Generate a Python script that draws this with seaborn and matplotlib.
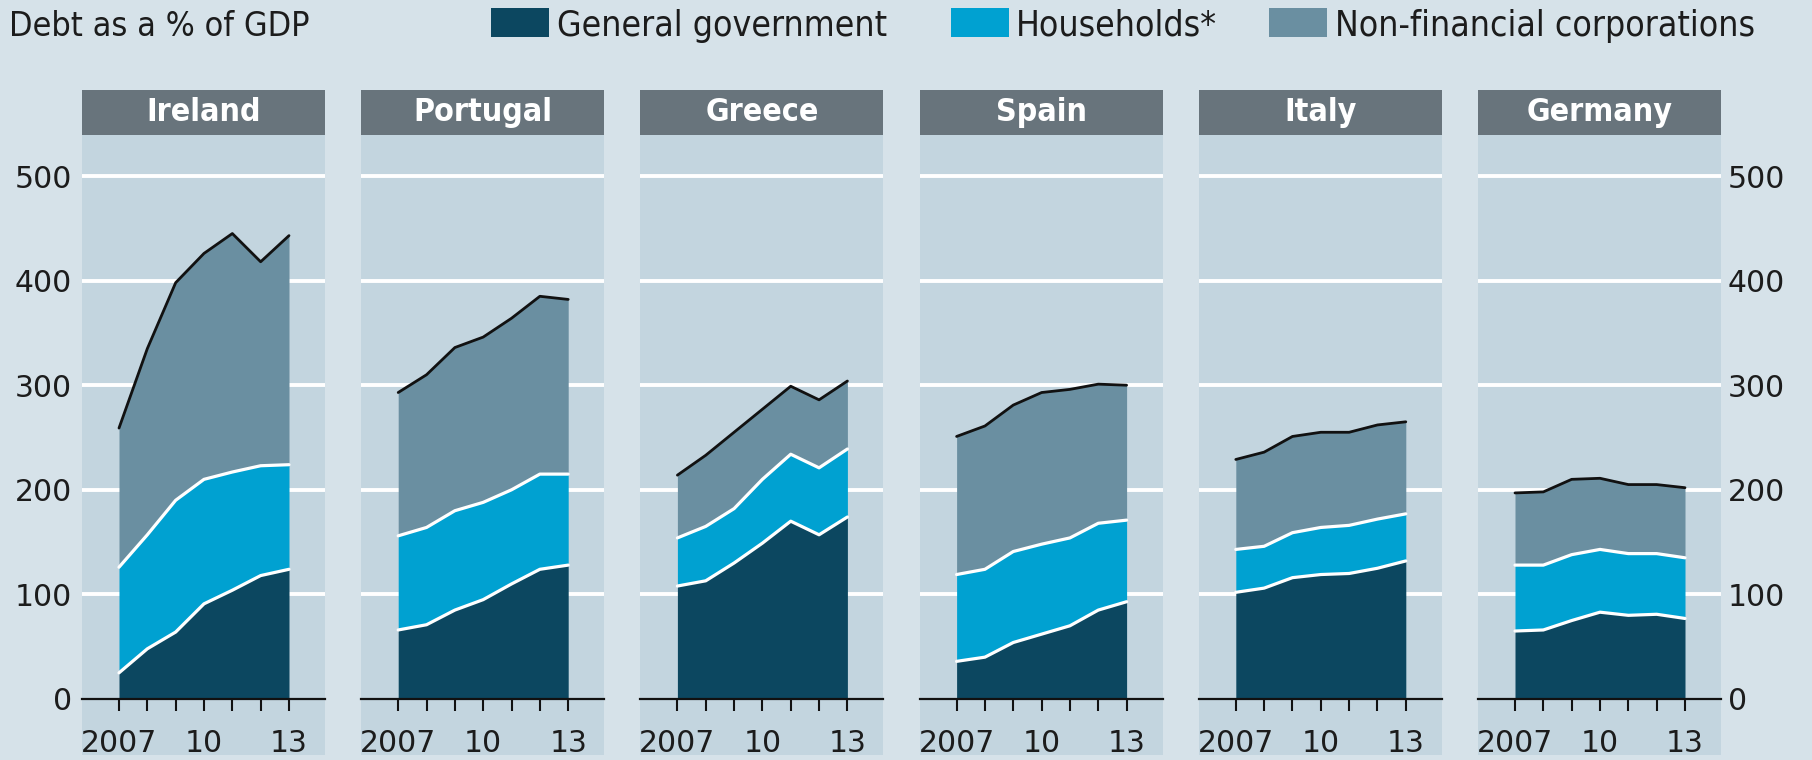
import numpy as np
import pandas as pd
import seaborn as sns
import matplotlib
matplotlib.use("Agg")
import matplotlib.pyplot as plt
from matplotlib.patches import Rectangle

# ---------------- data ----------------
years = [2007, 2008, 2009, 2010, 2011, 2012, 2013]
countries = ["Ireland", "Portugal", "Greece", "Spain", "Italy", "Germany"]
series_names = ["General government", "Households*", "Non-financial corporations"]

general_government = {
    "Ireland":  [25, 48, 64, 91, 104, 118, 124],
    "Portugal": [66, 71, 85, 95, 110, 124, 128],
    "Greece":   [108, 113, 130, 149, 170, 157, 174],
    "Spain":    [36, 40, 54, 62, 70, 85, 93],
    "Italy":    [102, 106, 116, 119, 120, 125, 132],
    "Germany":  [65, 66, 75, 83, 80, 81, 77],
}
households = {
    "Ireland":  [101, 109, 126, 119, 113, 105, 100],
    "Portugal": [90, 93, 95, 93, 90, 91, 87],
    "Greece":   [46, 52, 52, 61, 64, 64, 65],
    "Spain":    [83, 84, 87, 86, 84, 83, 78],
    "Italy":    [41, 40, 43, 45, 46, 47, 45],
    "Germany":  [63, 62, 63, 60, 59, 58, 58],
}
non_financial_corporations = {
    "Ireland":  [133, 178, 208, 216, 228, 195, 219],
    "Portugal": [137, 146, 156, 158, 164, 170, 167],
    "Greece":   [60, 68, 73, 67, 65, 65, 65],
    "Spain":    [132, 137, 140, 145, 142, 133, 129],
    "Italy":    [86, 90, 92, 91, 89, 90, 88],
    "Germany":  [69, 70, 72, 68, 66, 66, 67],
}
y_ticks = [0, 100, 200, 300, 400, 500]
x_tick_labels = {2007: "2007", 2010: "10", 2013: "13"}

# ---------------- style ----------------
FIG_BG = "#d6e2e9"
PANEL_BG = "#c3d5df"
HEADER_BG = "#68747c"
C_GOV = "#0c4760"
C_HH = "#00a1d1"
C_NFC = "#6a8fa1"
TXT = "#1c1c1c"

sns.set_theme(style="white")
plt.rcParams["font.family"] = ["DejaVu Sans"]
plt.rcParams["font.stretch"] = "condensed"

W, H = 1812, 760
fig = plt.figure(figsize=(W / 100, H / 100), dpi=100, facecolor=FIG_BG)

zero_px = 699
top_px = 135
panel_w = 243
pitch = 279.2
first_left = 82
ymax = (zero_px - top_px) / 104.6 * 100

long_rows = []
for c in countries:
    for i, y in enumerate(years):
        long_rows.append(dict(country=c, year=y,
                              gov=general_government[c][i],
                              hh=households[c][i],
                              nfc=non_financial_corporations[c][i]))
df = pd.DataFrame(long_rows)
df["cum1"] = df["gov"]
df["cum2"] = df["gov"] + df["hh"]
df["cum3"] = df["cum2"] + df["nfc"]

step_px = (289 - 119) / 6.0
x_lo = 2007 - 37 / step_px
x_hi = 2013 + 36 / step_px

for k, c in enumerate(countries):
    left = first_left + k * pitch
    ax = fig.add_axes([left / W, (H - zero_px) / H, panel_w / W, (zero_px - top_px) / H])
    ax.set_facecolor(PANEL_BG)
    d = df[df["country"] == c]

    ax.stackplot(d["year"], d["gov"], d["hh"], d["nfc"],
                 colors=[C_GOV, C_HH, C_NFC], linewidth=0, zorder=2)
    sns.lineplot(data=d, x="year", y="cum1", ax=ax, color="white", lw=2.3, zorder=3)
    sns.lineplot(data=d, x="year", y="cum2", ax=ax, color="white", lw=2.3, zorder=3)
    sns.lineplot(data=d, x="year", y="cum3", ax=ax, color="#111111", lw=2.0, zorder=3)

    ax.set_xlim(x_lo, x_hi)
    ax.set_ylim(0, ymax)
    ax.set_xlabel("")
    ax.set_ylabel("")

    for g in y_ticks[1:]:
        ax.axhline(g, color="white", lw=2.8, zorder=1)

    for s in ["top", "left", "right"]:
        ax.spines[s].set_visible(False)
    ax.spines["bottom"].set_color("#111111")
    ax.spines["bottom"].set_linewidth(1.6)
    ax.spines["bottom"].set_zorder(4)

    ax.set_xticks(years)
    ax.set_xticklabels([x_tick_labels.get(y, "") for y in years])
    ax.tick_params(axis="x", direction="out", length=8.5, width=1.5, color="#111111",
                   pad=13, labelsize=21.5, labelcolor=TXT, bottom=True)
    for lab in ax.get_xticklabels():
        lab.set_fontstretch("normal")

    ax.set_yticks(y_ticks)
    if k == 0:
        ax.tick_params(axis="y", left=False, right=False, labelleft=True, labelright=False,
                       length=0, pad=7, labelsize=21.5, labelcolor=TXT)
    elif k == len(countries) - 1:
        ax.tick_params(axis="y", left=False, right=False, labelleft=False, labelright=True,
                       length=0, pad=5, labelsize=21.5, labelcolor=TXT)
    else:
        ax.tick_params(axis="y", left=False, right=False, labelleft=False, labelright=False)
    for lab in ax.get_yticklabels():
        lab.set_fontstretch("normal")
    ax.grid(False)

    # panel background continuing under the axis
    below = 56 / (zero_px - top_px)
    ax.add_patch(Rectangle((0, -below), 1, below, transform=ax.transAxes,
                           facecolor=PANEL_BG, edgecolor="none", clip_on=False, zorder=0))
    # header bar
    hh_ = 45 / (zero_px - top_px)
    ax.add_patch(Rectangle((0, 1), 1, hh_, transform=ax.transAxes,
                           facecolor=HEADER_BG, edgecolor="none", clip_on=False, zorder=5))
    ax.text(0.5, 1 + hh_ / 2, c, transform=ax.transAxes, ha="center", va="center",
            color="white", fontsize=23, fontweight="semibold", fontstretch="condensed",
            zorder=6, clip_on=False)

# title
fig.text(9 / W, 1 - 36 / H, "Debt as a % of GDP", ha="left", va="baseline",
         fontsize=24.5, color=TXT, fontstretch="condensed")

# legend
legend_items = [(491, 557, C_GOV), (951, 1016, C_HH), (1269, 1335, C_NFC)]
for (sx, tx, col), name in zip(legend_items, series_names):
    fig.patches.append(Rectangle((sx / W, 1 - 37 / H), 58 / W, 29 / H,
                                 transform=fig.transFigure, facecolor=col,
                                 edgecolor="none"))
    fig.text(tx / W, 1 - 36 / H, name, ha="left", va="baseline", fontsize=25.5,
             color=TXT, fontstretch="condensed")

fig.savefig("out.png", dpi=100, facecolor=FIG_BG)
